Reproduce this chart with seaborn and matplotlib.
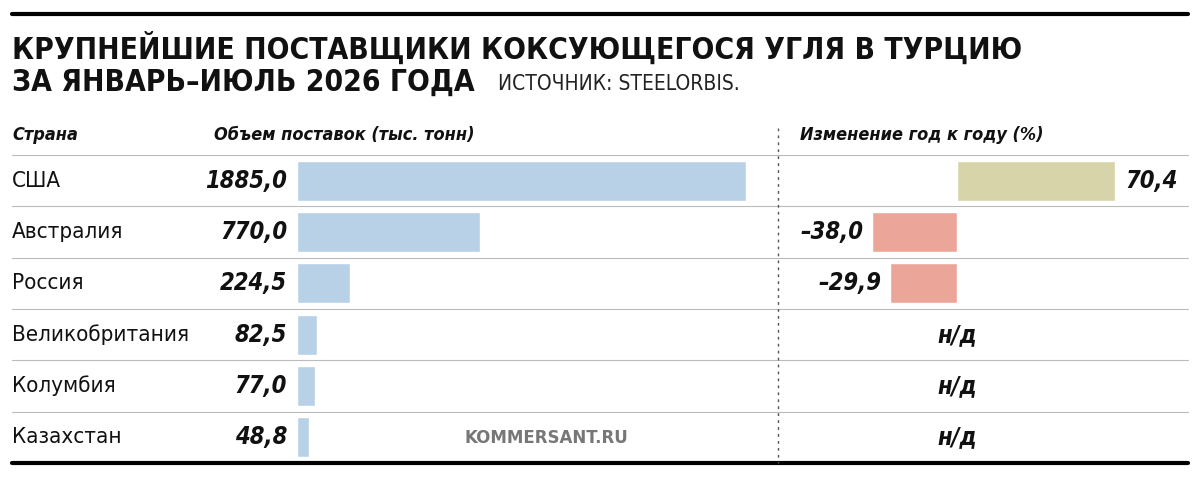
import matplotlib
matplotlib.use("Agg")
import matplotlib.pyplot as plt
import seaborn as sns
import pandas as pd

countries = ["США", "Австралия", "Россия", "Великобритания", "Колумбия", "Казахстан"]
volumes = [1885.0, 770.0, 224.5, 82.5, 77.0, 48.8]
changes = [70.4, -38.0, -29.9, None, None, None]

W, H = 1200, 480
sns.set_theme(style="white")
plt.rcParams["font.family"] = ["DejaVu Sans"]
plt.rcParams["font.stretch"] = "condensed"
plt.rcParams["text.color"] = "#111111"

fig = plt.figure(figsize=(W / 100, H / 100), dpi=100)

def px(x, y):
    return x / W, 1 - y / H

def fmt(v):
    return f"{v:.1f}".replace(".", ",").replace("-", "–")

top, bottom = 155, 463
row_h = (bottom - top) / len(countries)

# left bars
df = pd.DataFrame({"country": countries, "vol": volumes})
ax1 = fig.add_axes([297 / W, 1 - bottom / H, (746 - 297) / W, (bottom - top) / H])
sns.barplot(data=df, x="vol", y="country", orient="h", color="#b9d1e7",
            saturation=1, width=0.78, ax=ax1)
ax1.set_xlim(0, 1885)
ax1.axis("off")

# right bars
zero = 957
scale = (1115 - zero) / 70.4
l, r = 800, 1160
dfc = pd.DataFrame({"country": countries, "chg": [c if c is not None else 0 for c in changes]})
ax2 = fig.add_axes([l / W, 1 - bottom / H, (r - l) / W, (bottom - top) / H])
cols = ["#d8d4a9" if (c or 0) > 0 else "#eca699" for c in changes]
sns.barplot(data=dfc, x="chg", y="country", orient="h", hue="country", palette=cols,
            legend=False, saturation=1, width=0.78, ax=ax2)
ax2.set_xlim((l - zero) / scale, (r - zero) / scale)
ax2.axis("off")

# lines
fig.add_artist(plt.Line2D([12 / W, 1188 / W], [1 - 14 / H] * 2, color="black", lw=3))
fig.add_artist(plt.Line2D([12 / W, 1188 / W], [1 - 463 / H] * 2, color="black", lw=3))
for i in range(len(countries)):
    y = top + i * row_h
    fig.add_artist(plt.Line2D([12 / W, 1188 / W], [1 - y / H] * 2, color="#bbbbbb", lw=0.8))
fig.add_artist(plt.Line2D([778 / W] * 2, [1 - 128 / H, 1 - 463 / H], color="#555555",
                          lw=1, ls=(0, (2, 3))))

# titles
fig.text(*px(12, 48), "КРУПНЕЙШИЕ ПОСТАВЩИКИ КОКСУЮЩЕГОСЯ УГЛЯ В ТУРЦИЮ", fontsize=21.5,
         fontweight="bold", va="center")
fig.text(*px(12, 82), "ЗА ЯНВАРЬ–ИЮЛЬ 2026 ГОДА", fontsize=21.5, fontweight="bold", va="center")
fig.text(*px(498, 84), "ИСТОЧНИК: STEELORBIS.", fontsize=15, va="center", color="#222222")

fig.text(*px(12, 135), "Страна", fontsize=13, style="italic", fontweight="bold", va="center")
fig.text(*px(214, 135), "Объем поставок (тыс. тонн)", fontsize=13, style="italic",
         fontweight="bold", va="center")
fig.text(*px(800, 135), "Изменение год к году (%)", fontsize=13, style="italic",
         fontweight="bold", va="center")

for i, (c, v, ch) in enumerate(zip(countries, volumes, changes)):
    y = top + (i + 0.5) * row_h
    fig.text(*px(12, y), c, fontsize=16, va="center")
    fig.text(*px(287, y), fmt(v), fontsize=17, fontweight="bold", style="italic",
             va="center", ha="right")
    if ch is None:
        fig.text(*px(957, y), "н/д", fontsize=17, fontweight="bold", style="italic",
                 va="center", ha="center")
    elif ch > 0:
        fig.text(*px(zero + ch * scale + 10, y), fmt(ch), fontsize=17, fontweight="bold",
                 style="italic", va="center", ha="left")
    else:
        fig.text(*px(zero + ch * scale - 8, y), fmt(ch), fontsize=17, fontweight="bold",
                 style="italic", va="center", ha="right")

fig.text(*px(465, 438), "KOMMERSANT.RU", fontsize=12, color="#777777", va="center",
         fontweight="bold", fontstretch="normal")

fig.savefig("out.png", dpi=100)
